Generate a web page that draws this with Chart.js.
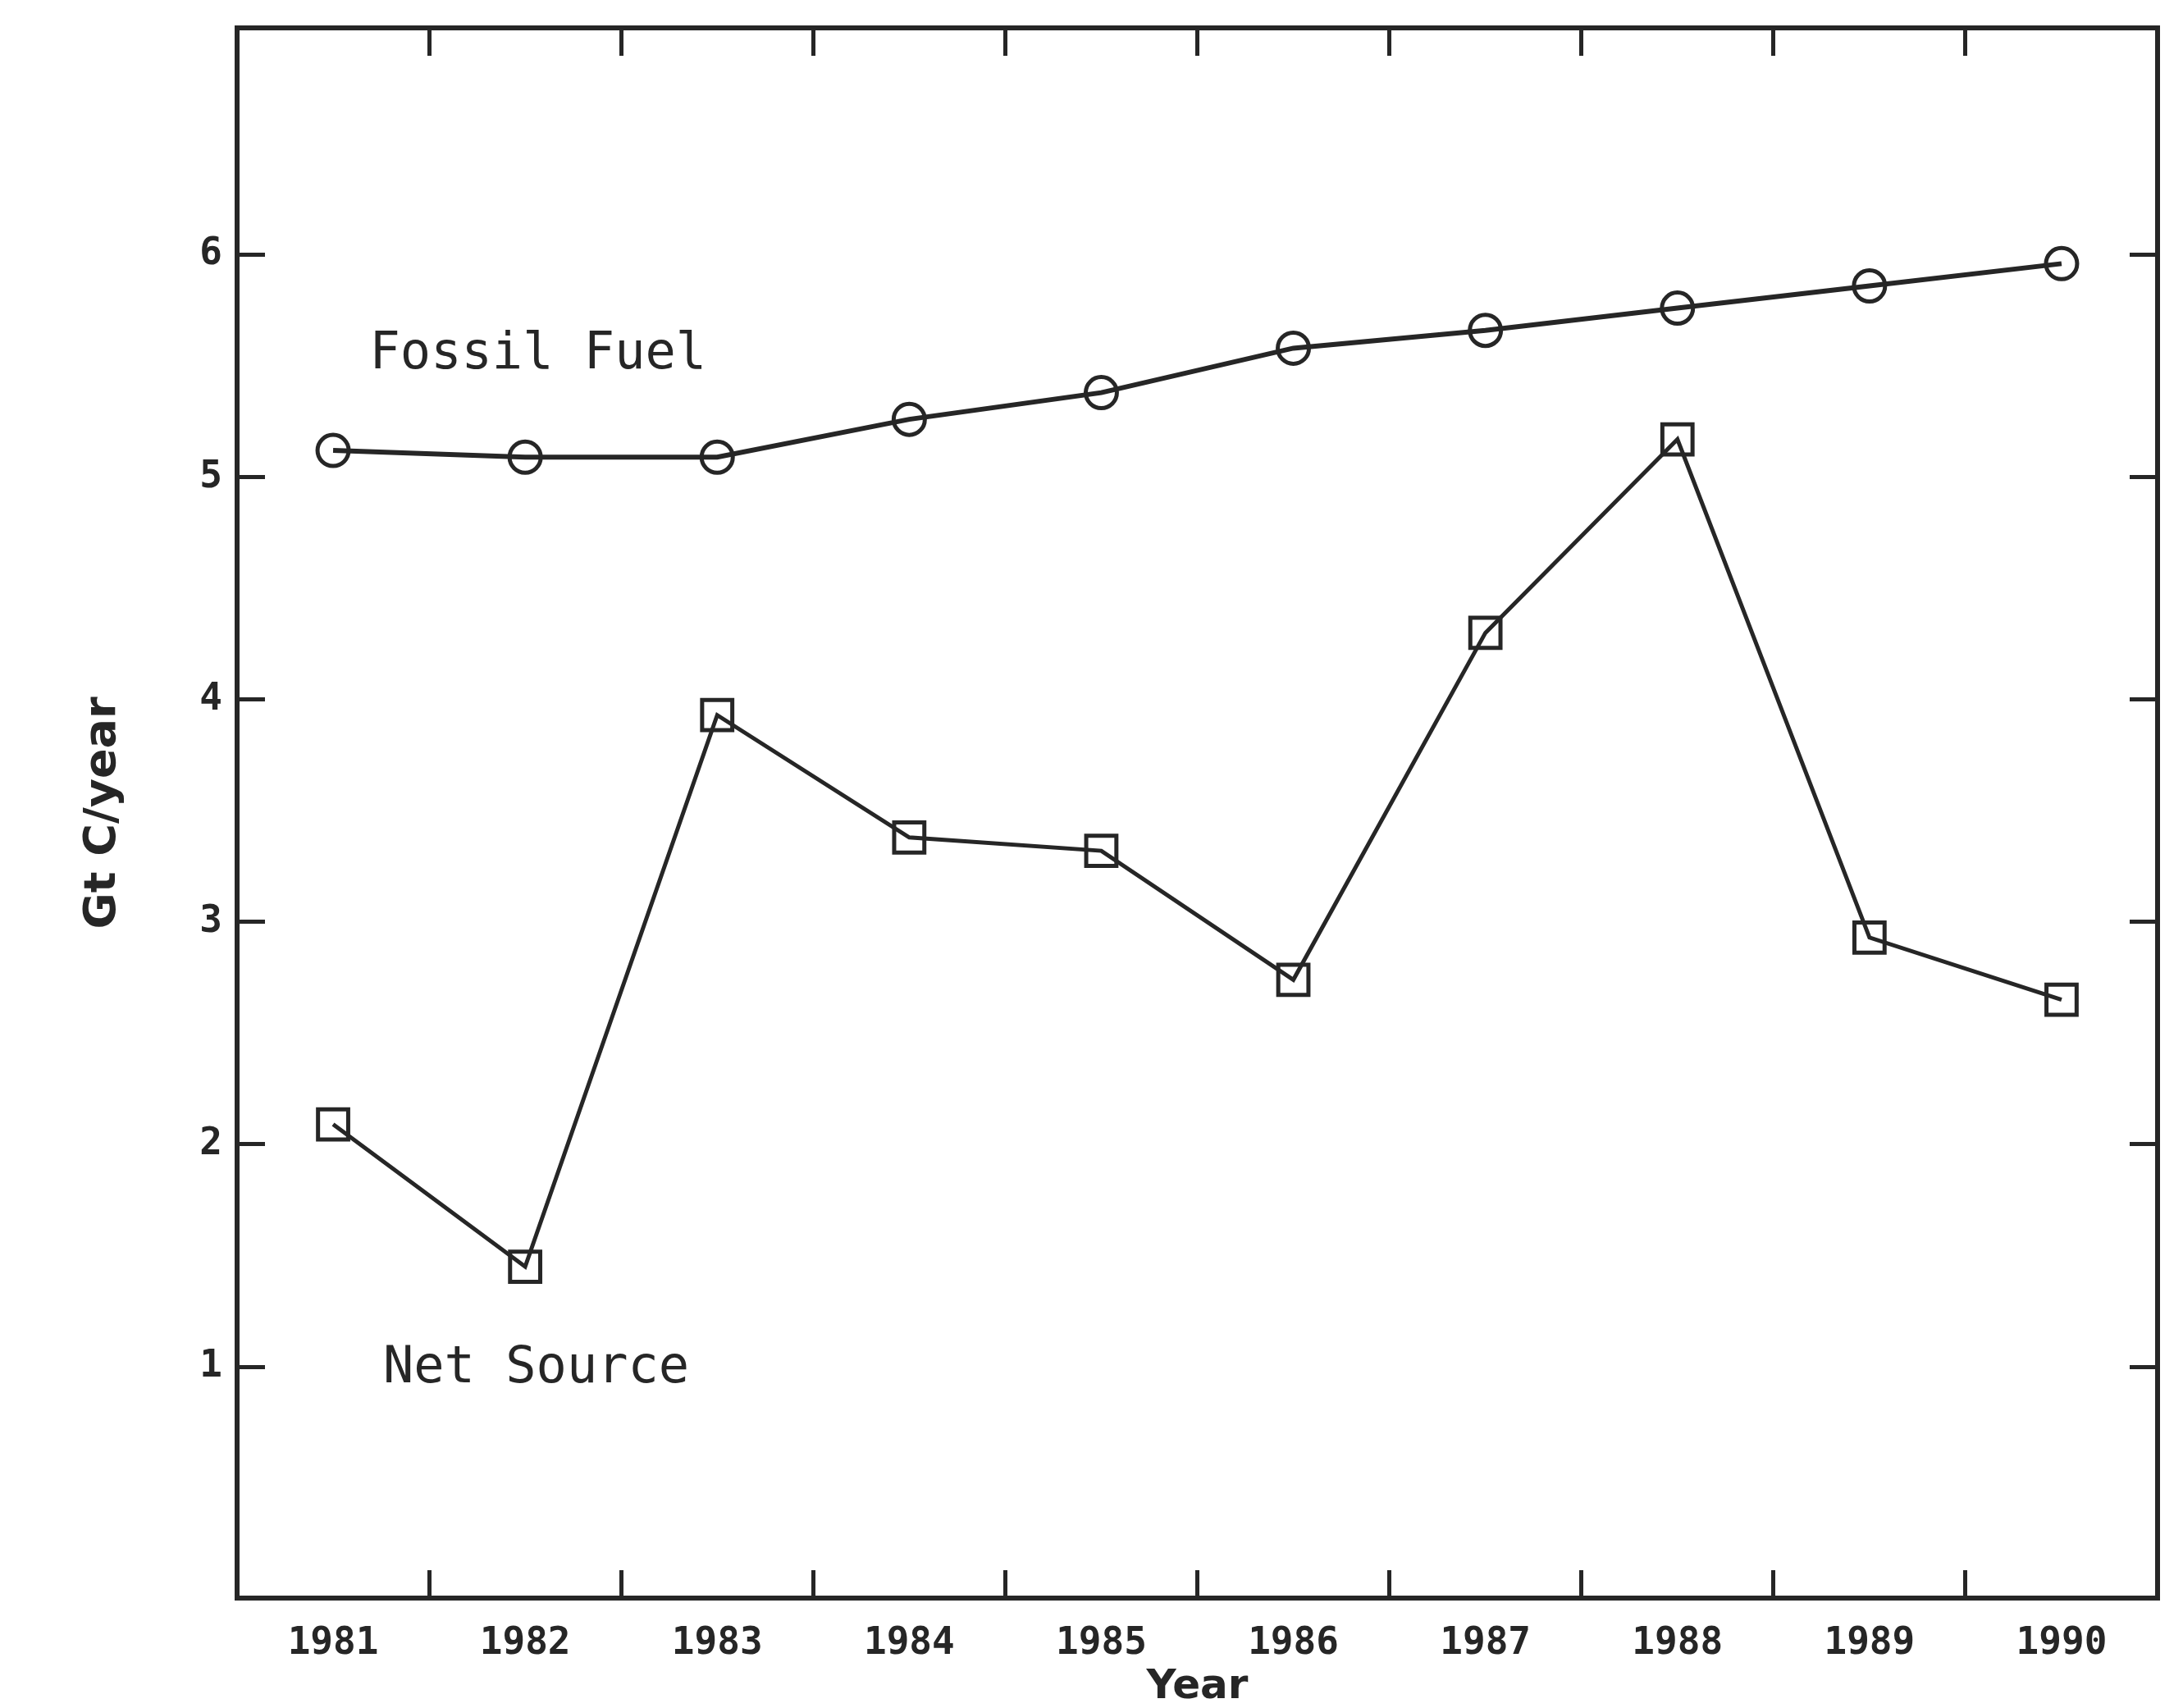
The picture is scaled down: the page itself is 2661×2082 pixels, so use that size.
<!DOCTYPE html>
<html>
<head>
<meta charset="utf-8">
<title>Fossil Fuel and Net Source, 1981-1990</title>
<script src="https://cdn.jsdelivr.net/npm/chart.js@4.4.1/dist/chart.umd.min.js"></script>
<style>
  html, body { margin: 0; padding: 0; background: #ffffff; }
  canvas { display: block; }
</style>
</head>
<body>
<canvas id="carbonChart" width="2661" height="2082"></canvas>
<script>
// Values (Gt C/year)
const years = ["1981", "1982", "1983", "1984", "1985", "1986", "1987", "1988", "1989", "1990"];
const fossilFuel = [5.12, 5.09, 5.09, 5.26, 5.38, 5.58, 5.66, 5.76, 5.86, 5.96];
const netSource = [2.09, 1.45, 3.93, 3.38, 3.32, 2.74, 4.30, 5.17, 2.93, 2.65];
const yTickValues = [1, 2, 3, 4, 5, 6];
const yMin = -0.04;
const yMax = 7.02;

const ink = "#262626";

// Series names written inside the plot, placed in data units
const seriesNotes = [
    { text: "Fossil Fuel", x: 0.19, y: 5.55 },
    { text: "Net Source", x: 0.26, y: 0.99 }
];

const notePlugin = {
    id: "seriesNotes",
    afterDatasetsDraw(chart) {
        const { ctx, scales } = chart;
        ctx.save();
        ctx.font = "62px 'DejaVu Sans Mono'";
        ctx.fillStyle = ink;
        ctx.textAlign = "left";
        ctx.textBaseline = "middle";
        seriesNotes.forEach(note => {
            ctx.fillText(note.text, scales.x.getPixelForValue(note.x), scales.y.getPixelForValue(note.y));
        });
        ctx.restore();
    }
};

// Inward tick marks on all four sides, no grid inside the box
const xGrid = { drawOnChartArea: false, drawTicks: true, tickLength: -34, tickWidth: 5, color: ink, offset: true };
const yGrid = { drawOnChartArea: false, drawTicks: true, tickLength: -34, tickWidth: 5, color: ink };
const frameBorder = { display: true, width: 6, color: ink };
const tickFont = { family: "'DejaVu Sans Mono'", size: 46, weight: "bold" };

// fixed axis sizes, and no extra room asked for half labels
function fixWidth(w) {
    return scale => {
        scale.width = w;
        scale.paddingTop = 0;
        scale.paddingBottom = 0;
    };
}
function fixHeight(h) {
    return scale => {
        scale.height = h;
        scale.paddingLeft = 0;
        scale.paddingRight = 0;
    };
}

new Chart(document.getElementById("carbonChart").getContext("2d"), {
    type: "line",
    data: {
        labels: years,
        datasets: [
            {
                label: "Fossil Fuel",
                data: fossilFuel,
                borderColor: ink,
                borderWidth: 6,
                tension: 0,
                fill: false,
                pointStyle: "circle",
                pointRadius: 19,
                pointBorderWidth: 5,
                pointBorderColor: ink,
                pointBackgroundColor: "rgba(0,0,0,0)"
            },
            {
                label: "Net Source",
                data: netSource,
                borderColor: ink,
                borderWidth: 5,
                tension: 0,
                fill: false,
                pointStyle: "rect",
                pointRadius: 26,
                pointBorderWidth: 5,
                pointBorderColor: ink,
                pointBackgroundColor: "rgba(0,0,0,0)"
            }
        ]
    },
    options: {
        responsive: false,
        animation: false,
        layout: { padding: { top: 34, right: 24, left: 0, bottom: 0 } },
        plugins: {
            legend: { display: false },
            tooltip: { enabled: false }
        },
        scales: {
            x: {
                type: "category",
                position: "bottom",
                offset: true,
                grid: xGrid,
                border: frameBorder,
                ticks: { font: tickFont, color: ink, padding: 62, maxRotation: 0, autoSkip: false },
                title: {
                    display: true,
                    text: "Year",
                    color: ink,
                    font: { family: "'DejaVu Sans'", size: 50, weight: "bold", lineHeight: 1 },
                    padding: { top: 0, bottom: 0 }
                },
                afterFit: fixHeight(134)
            },
            xTop: {
                type: "category",
                position: "top",
                labels: years,
                offset: true,
                grid: xGrid,
                border: frameBorder,
                ticks: { display: false },
                afterFit: fixHeight(0)
            },
            y: {
                type: "linear",
                position: "left",
                min: yMin,
                max: yMax,
                afterBuildTicks: scale => { scale.ticks = yTickValues.map(v => ({ value: v })); },
                grid: yGrid,
                border: frameBorder,
                ticks: { font: tickFont, color: ink, padding: 52 },
                title: {
                    display: true,
                    text: "Gt C/year",
                    color: ink,
                    font: { family: "'DejaVu Sans'", size: 54, weight: "bold" },
                    padding: { top: 94, bottom: 0 }
                },
                afterFit: fixWidth(289)
            },
            yRight: {
                type: "linear",
                position: "right",
                min: yMin,
                max: yMax,
                afterBuildTicks: scale => { scale.ticks = yTickValues.map(v => ({ value: v })); },
                grid: yGrid,
                border: frameBorder,
                ticks: { display: false },
                afterFit: fixWidth(0)
            }
        }
    },
    plugins: [notePlugin]
});
</script>
</body>
</html>
